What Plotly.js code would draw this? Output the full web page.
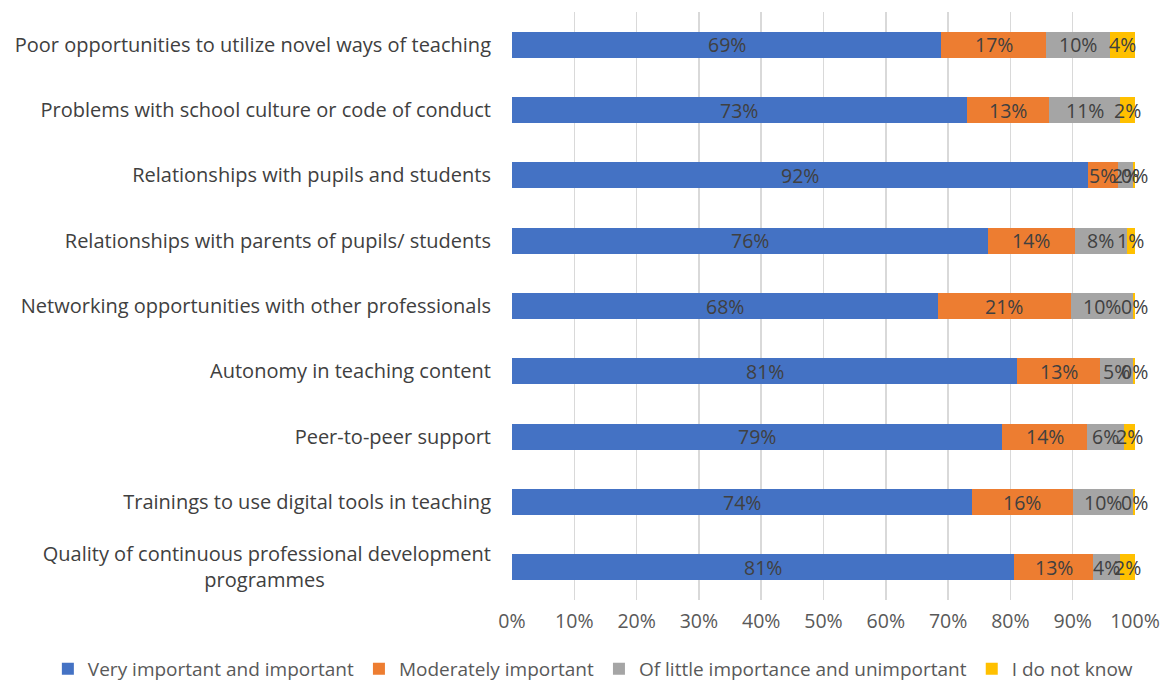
<!DOCTYPE html>
<html><head><meta charset="utf-8">
<script src="https://cdn.plot.ly/plotly-3.0.1.min.js"></script>
<style>html,body{margin:0;padding:0;background:#fff}#chart{width:1162px;height:682px}</style>
</head><body><div id="chart"></div>
<script>
const categories = [
  "Poor opportunities to utilize novel ways of teaching",
  "Problems with school culture or code of conduct",
  "Relationships with pupils and students",
  "Relationships with parents of pupils/ students",
  "Networking opportunities with other professionals",
  "Autonomy in teaching content",
  "Peer-to-peer support",
  "Trainings to use digital tools in teaching",
  "Quality of continuous professional development<br>programmes" + "\u00a0".repeat(32)
];
const seriesNames = ["Very important and important","Moderately important","Of little importance and unimportant","I do not know"];
const veryImportant = [68.9, 73.0, 92.4, 76.4, 68.4, 81.1, 78.7, 73.8, 80.6];
const moderately    = [16.8, 13.2, 4.9, 13.9, 21.3, 13.3, 13.6, 16.2, 12.7];
const littleImp     = [10.3, 11.4, 2.4, 8.4, 10.0, 5.3, 5.9, 9.7, 4.3];
const doNotKnow     = [4.0, 2.4, 0.3, 1.3, 0.3, 0.3, 1.8, 0.3, 2.4];
const xTicks = [0,10,20,30,40,50,60,70,80,90,100];
const xTickText = xTicks.map(t => t + '%');
const colors = ["#4472C4","#ED7D31","#A5A5A5","#FFC000"];
const series = [veryImportant, moderately, littleImp, doNotKnow];
const FONT = "Open Sans, sans-serif";

const traces = series.map((vals, i) => ({
  type: 'bar', orientation: 'h', name: seriesNames[i],
  y: categories, x: vals, marker: {color: colors[i]},
  width: 0.4, hoverinfo: 'none'
}));

const annotations = [];
categories.forEach((c, r) => {
  let start = 0;
  series.forEach((vals) => {
    const v = vals[r];
    annotations.push({x: start + v/2, y: c, xref: 'x', yref: 'y', text: Math.round(v) + '%',
      showarrow: false, font: {family: FONT, size: 19.5, color: '#404040'}});
    start += v;
  });
});

const layout = {
  width: 1162, height: 682,
  margin: {l: 512, r: 27, t: 12, b: 82, autoexpand: false},
  barmode: 'stack',
  paper_bgcolor: '#fff', plot_bgcolor: '#fff',
  font: {family: FONT, size: 19, color: '#595959'},
  xaxis: {range: [0, 100], tickmode: 'array', tickvals: xTicks, ticktext: xTickText,
    showgrid: true, gridcolor: '#D9D9D9', gridwidth: 1.5, zeroline: false, showline: false,
    ticks: '', ticklabelstandoff: 7, automargin: false, tickfont: {family: FONT, size: 19.5, color: '#595959'}},
  yaxis: {autorange: 'reversed', type: 'category', showgrid: false, zeroline: false, showline: false,
    ticks: '', ticklabelstandoff: 20, automargin: false, tickfont: {family: FONT, size: 20, color: '#404040'}},
  showlegend: true,
  legend: {orientation: 'h', xref: 'paper', x: -0.745, xanchor: 'left', yref: 'paper', y: -0.085, yanchor: 'top',
    font: {family: FONT, size: 19, color: '#595959'}, traceorder: 'normal', itemwidth: 30, bgcolor: 'rgba(0,0,0,0)'},
  annotations: annotations
};
Plotly.newPlot('chart', traces, layout, {displayModeBar: false, staticPlot: true});
</script></body></html>
